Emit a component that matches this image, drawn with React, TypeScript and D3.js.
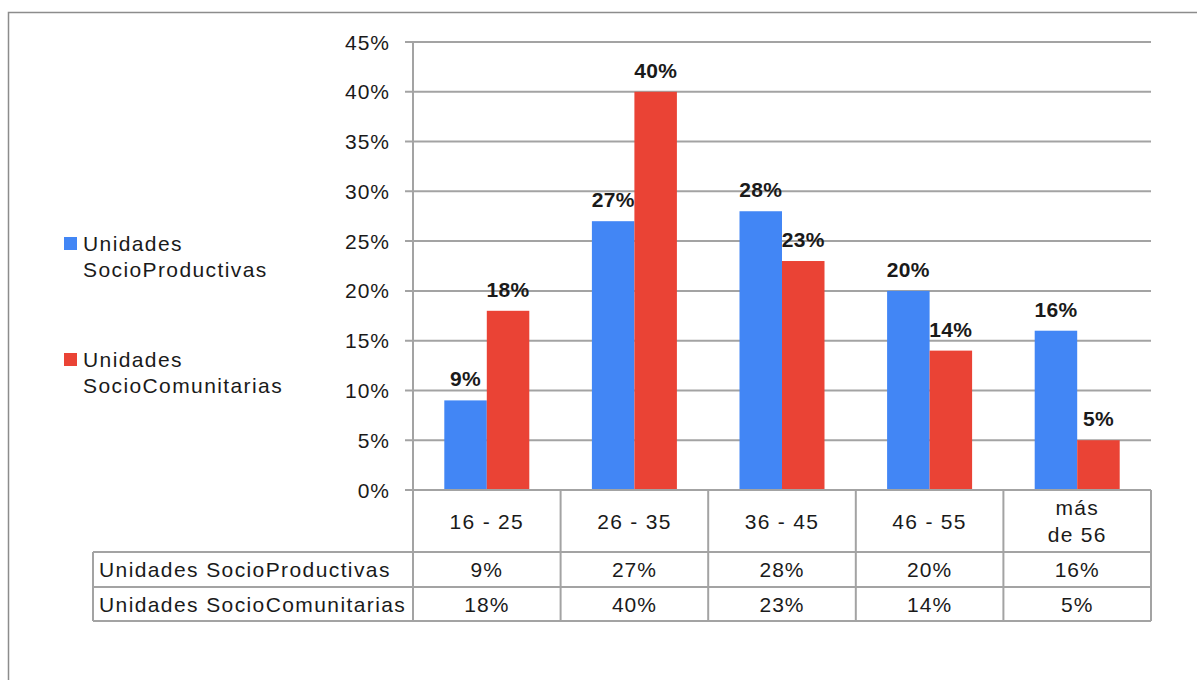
import React from "react";
import * as d3 from "d3";

const categories = ["16 - 25", "26 - 35", "36 - 45", "46 - 55", "más de 56"];
const categoryLines = [["16 - 25"], ["26 - 35"], ["36 - 45"], ["46 - 55"], ["más", "de 56"]];
const seriesNames = ["Unidades SocioProductivas", "Unidades SocioComunitarias"];
const legendLines = [["Unidades", "SocioProductivas"], ["Unidades", "SocioComunitarias"]];
const productivas = [9, 27, 28, 20, 16];
const comunitarias = [18, 40, 23, 14, 5];
const seriesValues = [productivas, comunitarias];
const colors = ["#4286f5", "#ea4335"];
const yTicks = [0, 5, 10, 15, 20, 25, 30, 35, 40, 45];

const W = 1197;
const H = 680;
const plotLeft = 413;
const plotRight = 1151;
const plotTop = 42;
const plotBottom = 490;
const row1Bottom = 552;
const row2Bottom = 587;
const row3Bottom = 621;
const tableLeft = 93;
const FONT = "'Liberation Sans', Arial, sans-serif";
const grid = "#a3a3a3";
const textColor = "#1a1a1a";

export default function App() {
  const x = d3.scaleBand<string>().domain(categories).range([plotLeft, plotRight]).padding(0);
  const groupW = 85;
  const x1 = d3.scaleBand<string>().domain(seriesNames).range([0, groupW]).padding(0);
  const y = d3.scaleLinear().domain([0, 45]).range([plotBottom, plotTop]);
  const step = x.step();
  const off = (step - groupW) / 2;
  const bounds = categories.map((c) => x(c) as number).concat([plotRight]);

  return (
    <svg
      width={W}
      height={H}
      style={{ position: "absolute", left: 0, top: 0, background: "#fff" }}
      fontFamily={FONT}
    >
      <rect x={0} y={0} width={W} height={H} fill="#fff" />
      <rect x={8.5} y={12.5} width={W + 20} height={H + 20} fill="none" stroke="#8c8c8c" strokeWidth={1.5} />

      {/* gridlines and ticks */}
      {yTicks.map((t) => (
        <g key={t}>
          <line x1={405} x2={plotRight} y1={y(t)} y2={y(t)} stroke={grid} strokeWidth={2} />
          <text
            x={390}
            y={y(t)}
            dy="0.36em"
            textAnchor="end"
            fontSize={21}
            letterSpacing={1}
            fill={textColor}
          >
            {t}%
          </text>
        </g>
      ))}

      {/* bars */}
      {categories.map((c, i) => (
        <g key={c}>
          {seriesNames.map((s, j) => {
            const v = seriesValues[j][i];
            const bx = (x(c) as number) + off + (x1(s) as number);
            const bw = x1.bandwidth();
            return (
              <g key={s}>
                <rect x={bx} y={y(v)} width={bw} height={plotBottom - y(v)} fill={colors[j]} />
                <text
                  x={bx + bw / 2}
                  y={y(v) - 14}
                  textAnchor="middle"
                  fontSize={21}
                  fontWeight="bold"
                  letterSpacing={0.3}
                  fill={textColor}
                >
                  {v}%
                </text>
              </g>
            );
          })}
        </g>
      ))}

      {/* axis line through table */}
      <line x1={plotLeft} x2={plotLeft} y1={plotTop} y2={row3Bottom} stroke={grid} strokeWidth={2} />

      {/* table */}
      <line x1={plotLeft} x2={plotRight} y1={plotBottom} y2={plotBottom} stroke={grid} strokeWidth={2} />
      <line x1={tableLeft} x2={plotRight} y1={row1Bottom} y2={row1Bottom} stroke={grid} strokeWidth={2} />
      <line x1={tableLeft} x2={plotRight} y1={row2Bottom} y2={row2Bottom} stroke={grid} strokeWidth={2} />
      <line x1={tableLeft} x2={plotRight} y1={row3Bottom} y2={row3Bottom} stroke={grid} strokeWidth={2} />
      <line x1={tableLeft} x2={tableLeft} y1={row1Bottom} y2={row3Bottom} stroke={grid} strokeWidth={2} />
      {bounds.slice(1).map((b, i) => (
        <line key={i} x1={b} x2={b} y1={plotBottom} y2={row3Bottom} stroke={grid} strokeWidth={2} />
      ))}

      {categories.map((c, i) => {
        const cx = (x(c) as number) + step / 2;
        const lines = categoryLines[i];
        const mid = (plotBottom + row1Bottom) / 2;
        return (
          <g key={c}>
            {lines.map((l, k) => (
              <text
                key={k}
                x={cx}
                y={mid + (k - (lines.length - 1) / 2) * 27}
                dy="0.36em"
                textAnchor="middle"
                fontSize={21}
                letterSpacing={1.3}
                fill={textColor}
              >
                {l}
              </text>
            ))}
            {seriesValues.map((vals, j) => (
              <text
                key={j}
                x={cx}
                y={j === 0 ? (row1Bottom + row2Bottom) / 2 : (row2Bottom + row3Bottom) / 2}
                dy="0.36em"
                textAnchor="middle"
                fontSize={21}
                letterSpacing={1}
                fill={textColor}
              >
                {vals[i]}%
              </text>
            ))}
          </g>
        );
      })}

      {seriesNames.map((s, j) => (
        <text
          key={s}
          x={99}
          y={j === 0 ? (row1Bottom + row2Bottom) / 2 : (row2Bottom + row3Bottom) / 2}
          dy="0.36em"
          fontSize={21}
          letterSpacing={1.4}
          fill={textColor}
        >
          {s}
        </text>
      ))}

      {/* legend */}
      {legendLines.map((lines, j) => {
        const base = j === 0 ? 251 : 367;
        return (
          <g key={j}>
            <rect x={64} y={base - 14} width={13} height={13} fill={colors[j]} />
            {lines.map((l, k) => (
              <text key={k} x={83} y={base + k * 26} fontSize={21} letterSpacing={1.4} fill={textColor}>
                {l}
              </text>
            ))}
          </g>
        );
      })}
    </svg>
  );
}
